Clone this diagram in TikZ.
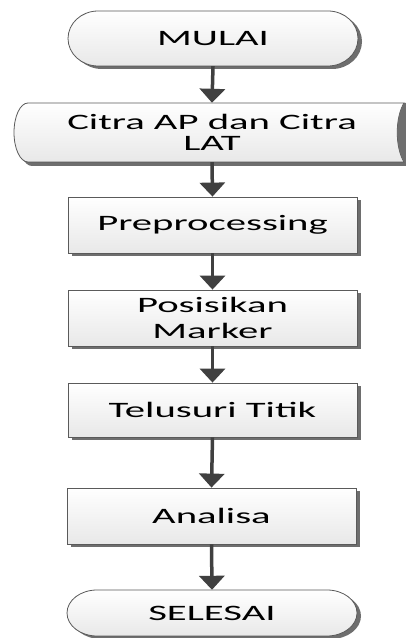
\documentclass[tikz,border=0pt]{standalone}
\usepackage{fontspec}
\newfontfamily\flowfont[FakeStretch=1.85]{Carlito}
\usetikzlibrary{arrows.meta,shadows}
\definecolor{edgec}{HTML}{5A5A5A}
\definecolor{arrowc}{HTML}{404040}
\definecolor{shadec}{HTML}{6E6E6E}
\tikzset{
  procbox/.style={rectangle, draw=edgec, line width=0.8pt, top color=white, bottom color=black!9,
    minimum width=289pt, minimum height=56pt, inner sep=0pt,
    font=\flowfont\fontsize{22}{26}\selectfont, align=center,
    drop shadow={shadow xshift=4pt, shadow yshift=-3pt, fill=shadec, opacity=1}},
  flow/.style={draw=arrowc, line width=3.5pt, -{Triangle[width=25pt,length=14pt]}},
  txt/.style={font=\flowfont\fontsize{22}{26}\selectfont, align=center, inner sep=0pt},
  outline/.style={draw=edgec, line width=0.8pt, top color=white, bottom color=black!9},
  shadowfill/.style={fill=shadec},
}
\begin{document}
\begin{tikzpicture}[x=1pt,y=1pt]
\useasboundingbox (0,0) rectangle (406,638);
\fill[white] (0,0) rectangle (406,638);

% MULAI terminator
\fill[shadowfill] (102,624) -- (332,624) arc[start angle=90, end angle=-90, x radius=30, y radius=27.5]
   -- (102,569) arc[start angle=270, end angle=90, x radius=30, y radius=27.5] -- cycle;
\path[outline] (98,627) -- (328,627) arc[start angle=90, end angle=-90, x radius=30, y radius=27.5]
   -- (98,572) arc[start angle=270, end angle=90, x radius=30, y radius=27.5] -- cycle;
\node[txt, minimum width=290pt, minimum height=55pt] (mulai) at (213,599.5) {MULAI};

% Citra AP dan Citra LAT (stored data)
\fill[shadowfill] (32,531) -- (410,531) -- (410,472) -- (32,472)
   arc[start angle=270, end angle=90, x radius=14, y radius=29.5] -- cycle;
\path[outline] (28,535) -- (404,535) .. controls (395,520) and (395,491) .. (404,476)
   -- (28,476) arc[start angle=270, end angle=90, x radius=14, y radius=29.5] -- cycle;
\fill[shadowfill] (404,535) .. controls (395,520) and (395,491) .. (404,476) -- (406,476) -- (406,535) -- cycle;
\node[txt, font=\flowfont\fontsize{22}{21}\selectfont, minimum width=380pt, minimum height=59pt] (citra) at (212,505.5) {Citra AP dan Citra\\LAT};

% process boxes
\node[procbox] (prep) at (212.5,413) {Preprocessing};
\node[procbox] (posisi) at (212.5,320) {Posisikan\\Marker};
\node[procbox, minimum height=54pt] (telusuri) at (212.5,228) {Telusuri Titik};
\node[procbox] (analisa) at (211.5,122) {Analisa};

% SELESAI terminator
\fill[shadowfill] (101,45) -- (331,45) arc[start angle=90, end angle=-90, x radius=30, y radius=23]
   -- (101,-1) arc[start angle=270, end angle=90, x radius=30, y radius=23] -- cycle;
\path[outline] (97,48) -- (327,48) arc[start angle=90, end angle=-90, x radius=30, y radius=23]
   -- (97,2) arc[start angle=270, end angle=90, x radius=30, y radius=23] -- cycle;
\node[txt, minimum width=290pt, minimum height=46pt] (selesai) at (212,25) {SELESAI};

% connectors
\draw[flow] (mulai.south) -- (citra.north);
\draw[flow] (citra.south) -- (prep.north);
\draw[flow] (prep.south) -- (posisi.north);
\draw[flow] (posisi.south) -- (telusuri.north);
\draw[flow] (telusuri.south) -- (analisa.north);
\draw[flow] (analisa.south) -- (selesai.north);
\end{tikzpicture}
\end{document}
